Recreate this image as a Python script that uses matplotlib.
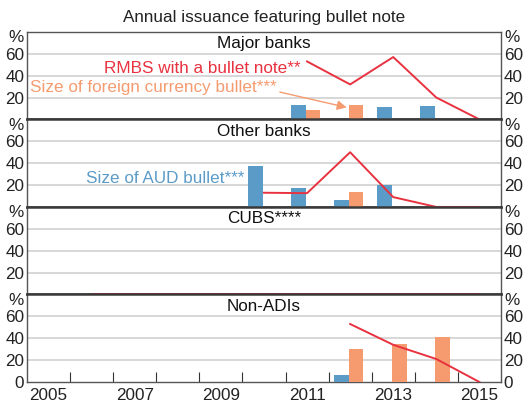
import numpy as np
import matplotlib
matplotlib.use('Agg')
import matplotlib.pyplot as plt
import matplotlib.transforms as mtransforms

plt.rcParams['font.family'] = ['Liberation Sans', 'DejaVu Sans']
plt.rcParams['font.size'] = 12.3

################### data ##################################################################

nan = np.nan
years = np.arange(2005, 2016)

# blue bars: size of AUD bullet, orange bars: size of foreign currency bullet, red line: share of RMBS
major_aud = [nan, nan, nan, nan, nan, nan, 13, nan, 11, 12, nan]
major_fx = [nan, nan, nan, nan, nan, nan, 9, 13, nan, nan, nan]
major_rmbs = [nan, nan, nan, nan, nan, nan, 53, 32, 57, 20, 0]

other_aud = [nan, nan, nan, nan, nan, 37, 17, 6, 20, nan, nan]
other_fx = [nan, nan, nan, nan, nan, nan, nan, 14, nan, nan, nan]
other_rmbs = [nan, nan, nan, nan, nan, 13, 12.6, 50, 9, 0, 0]

cubs_aud = [nan] * 11
cubs_fx = [nan] * 11
cubs_rmbs = [nan, 0, 0, 0, 0, 0, 0, 0, 0, 0, 0]

nonadi_aud = [nan, nan, nan, nan, nan, nan, nan, 6, nan, nan, nan]
nonadi_fx = [nan, nan, nan, nan, nan, nan, nan, 30, 35, 41, nan]
nonadi_rmbs = [nan, nan, nan, nan, nan, nan, nan, 53, 34, 21, 0]

panel_titles = ['Major banks', 'Other banks', 'CUBS****', 'Non-ADIs']
yticks = [20, 40, 60]
xlabel_years = [2005, 2007, 2009, 2011, 2013, 2015]

################### plot ##################################################################

blue = '#5b9bc8'
orange = '#f59b6f'
red = '#e8323f'
grid_c = '#d4d4d4'
frame_c = '#555555'

panels = [(major_aud, major_fx, major_rmbs),
          (other_aud, other_fx, other_rmbs),
          (cubs_aud, cubs_fx, cubs_rmbs),
          (nonadi_aud, nonadi_fx, nonadi_rmbs)]

fig, axes = plt.subplots(4, 1, figsize=(5.24, 4.09), dpi=100, sharex=True)
fig.subplots_adjust(left=0.0515, right=0.956, top=0.922, bottom=0.066, hspace=0)

for i, ax in enumerate(axes):
    aud, fx, rmbs = panels[i]
    ax.bar(years + 0.13, aud, width=0.34, align='edge', color=blue, zorder=3)
    ax.bar(years + 0.47, fx, width=0.34, align='edge', color=orange, zorder=3)
    ax.plot(years + 0.5, rmbs, color=red, lw=1.4, zorder=4)

    ax.set_ylim(0, 80)
    ax.set_xlim(2005, 2016)
    ticks = yticks if i < 3 else [0] + yticks
    ax.set_yticks(ticks)
    ax.set_yticklabels([str(t) for t in ticks])
    for g in yticks:
        ax.axhline(g, color=grid_c, lw=1.3, zorder=1)
    ax.tick_params(axis='y', length=0, labelleft=True, labelright=True, pad=2,
                   labelsize=12.3, colors='#222222')
    for s in ax.spines.values():
        s.set_color(frame_c)
        s.set_linewidth(1.0)
    if i > 0:
        ax.spines['top'].set_linewidth(1.8)
        ax.spines['top'].set_color('#3a3a3a')
    if i < 3:
        ax.spines['bottom'].set_linewidth(1.8)
        ax.spines['bottom'].set_color('#3a3a3a')

    trans_l = mtransforms.blended_transform_factory(ax.transAxes, ax.transData)
    ax.text(-0.007, 74.5, '%', transform=trans_l, ha='right', va='center', color='#222222')
    ax.text(1.007, 74.5, '%', transform=trans_l, ha='left', va='center', color='#222222')
    ax.text(0.5, 69, panel_titles[i], transform=trans_l, ha='center', va='center', color='#111111')

# x axis on bottom panel: ticks at year boundaries, labels at year centres
axb = axes[-1]
axb.set_xticks(years[1:])
axb.set_xticklabels([])
axb.tick_params(axis='x', which='major', direction='in', length=7, color='#333333')
axb.set_xticks([y + 0.5 for y in xlabel_years], minor=True)
axb.set_xticklabels([str(y) for y in xlabel_years], minor=True)
axb.tick_params(axis='x', which='minor', length=0, pad=4, labelsize=12.3, colors='#222222')
for ax in axes[:-1]:
    ax.tick_params(axis='x', which='both', length=0)

# annotations
axes[0].text(2011.35, 47, 'RMBS with a bullet note**', color=red, ha='right', va='center')
axes[0].annotate('Size of foreign currency bullet***', xy=(2012.42, 11), xytext=(2005.08, 29),
                 color=orange, ha='left', va='center',
                 arrowprops=dict(arrowstyle='-|>', color=orange, lw=1.0,
                                 shrinkA=0, shrinkB=0, mutation_scale=14,
                                 relpos=(1.0, 0.25)))
axes[1].text(2010.05, 26, 'Size of AUD bullet***', color=blue, ha='right', va='center')

fig.text(0.504, 0.958, 'Annual issuance featuring bullet note', ha='center', va='center',
         fontsize=12.3, color='#222222')

plt.savefig('out.png', dpi=100)
plt.close()
